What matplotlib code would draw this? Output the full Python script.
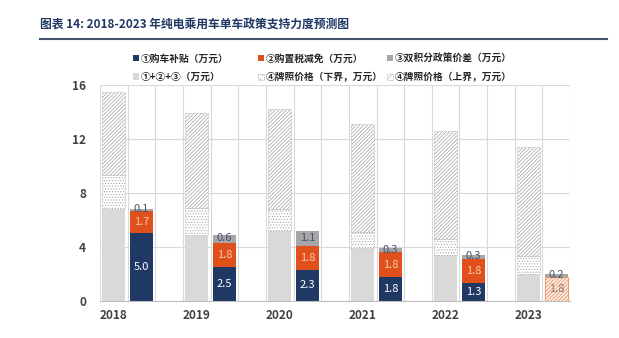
import matplotlib
import matplotlib.pyplot as plt
import numpy as np
from matplotlib.patches import Patch

matplotlib.use('Agg')
plt.rcParams['font.family'] = ['Noto Sans CJK SC', 'DejaVu Sans']
plt.rcParams['hatch.linewidth'] = 0.5

years = ['2018', '2019', '2020', '2021', '2022', '2023']
subsidy = [5.0, 2.5, 2.3, 1.8, 1.3, 0.0]        # ①
tax_cut = [1.7, 1.8, 1.8, 1.8, 1.8, 1.8]        # ②
credit_gap = [0.1, 0.6, 1.1, 0.3, 0.3, 0.2]     # ③
plate_low = [2.5, 2.0, 1.6, 1.2, 1.2, 1.3]      # ④ lower bound
plate_high = [8.7, 9.0, 9.0, 9.2, 9.2, 9.4]     # ④ upper bound

labels = ['①购车补贴（万元）', '②购置税减免（万元）', '③双积分政策价差（万元）',
          '①+②+③（万元）', '④牌照价格（下界，万元）', '④牌照价格（上界，万元）']

navy = '#1F3864'
orange = '#E0501B'
mid_gray = '#A6A6A6'
light_gray = '#D9D9D9'
dots = '......'
slash = '/' * 9

subsidy = np.array(subsidy)
tax_cut = np.array(tax_cut)
credit_gap = np.array(credit_gap)
total = subsidy + tax_cut + credit_gap
plate_low = np.array(plate_low)
plate_high = np.array(plate_high)

fig = plt.figure(figsize=(6.19, 3.38), dpi=100)
ax = fig.add_axes([0.1616, 0.1095, 0.7594, 0.639])

x_total = np.arange(len(years)) * 3
x_stack = x_total + 1
w = 0.84

# total bar with licence price bounds on top
ax.bar(x_total, total, w, color=light_gray, zorder=2)
ax.bar(x_total, plate_low, w, bottom=total, color='white', hatch=dots,
       edgecolor='#A8A8A8', linewidth=0.6, linestyle=':', zorder=2)
ax.bar(x_total, plate_high - plate_low, w, bottom=total + plate_low, color='white',
       hatch=slash, edgecolor='#A0A0A0', linewidth=0.6, linestyle=':', zorder=2)

# stacked policy components
ax.bar(x_stack, subsidy, w, color=navy, zorder=2)
ax.bar(x_stack[:5], tax_cut[:5], w, bottom=subsidy[:5], color=orange, zorder=2)
ax.bar(x_stack[5:], tax_cut[5:], w, bottom=subsidy[5:], color='#FDEBDD',
       hatch=slash, edgecolor='#EE8A5E', linewidth=0.6, zorder=2)
ax.bar(x_stack, credit_gap, w, bottom=subsidy + tax_cut, color=mid_gray, zorder=2)

for i in range(len(years)):
    if subsidy[i] > 0:
        ax.text(x_stack[i], subsidy[i] / 2, f'{subsidy[i]:.1f}', ha='center',
                va='center', color='white', fontsize=8, zorder=3)
    tcol = '#F8CBAD' if i < 5 else '#7F7F7F'
    ax.text(x_stack[i], subsidy[i] + tax_cut[i] / 2, f'{tax_cut[i]:.1f}', ha='center',
            va='center', color=tcol, fontsize=8, zorder=3)
    ax.text(x_stack[i], subsidy[i] + tax_cut[i] + credit_gap[i] / 2 + 0.05,
            f'{credit_gap[i]:.1f}', ha='center', va='center', color='#44546A',
            fontsize=8, zorder=3)

ax.set_xlim(-0.5, 16.5)
ax.set_ylim(0, 16)
ax.set_yticks([0, 4, 8, 12, 16])
ax.set_xticks(x_total)
ax.set_xticklabels(years, fontweight='bold', color='#404040', fontsize=8.5)
ax.set_xticks(np.arange(-0.5, 17, 1), minor=True)
ax.tick_params(axis='y', length=0, labelsize=8.5, labelcolor='#404040', pad=10)
ax.tick_params(axis='x', which='both', length=0, pad=6)
for lab in ax.get_yticklabels():
    lab.set_fontweight('bold')
ax.grid(axis='y', color=light_gray, linewidth=0.8, zorder=0)
ax.grid(axis='x', which='minor', color=light_gray, linewidth=0.8, zorder=0)
for s in ['left', 'right', 'top']:
    ax.spines[s].set_visible(False)
ax.spines['bottom'].set_color('#BFBFBF')

handles = [
    Patch(facecolor=navy),
    Patch(facecolor=orange),
    Patch(facecolor=mid_gray),
    Patch(facecolor=light_gray),
    Patch(facecolor='white', hatch='....', edgecolor='#BDBDBD', linewidth=0.4),
    Patch(facecolor='white', hatch='/////', edgecolor='#BDBDBD', linewidth=0.4),
]
# one legend per column so the columns sit where the reference has them
col_x = [0.212, 0.414, 0.622]
for c in range(3):
    fig.legend([handles[c], handles[c + 3]], [labels[c], labels[c + 3]],
               loc='upper left', bbox_to_anchor=(col_x[c], 0.847), frameon=False,
               prop={'size': 7.0, 'weight': 'bold'}, handlelength=0.6,
               handleheight=0.6, handletextpad=0.2, labelspacing=0.85,
               borderaxespad=0, borderpad=0.2, labelcolor='#262626')

fig.text(0.065, 0.925, '图表 14: 2018-2023 年纯电乘用车单车政策支持力度预测图',
         fontsize=8.5, fontweight='bold', color='#1F3864', va='center')
fig.add_artist(plt.Line2D([0.065, 0.98], [0.885, 0.885], color='#44546A', linewidth=1.5))

fig.savefig('out.png', dpi=100)
